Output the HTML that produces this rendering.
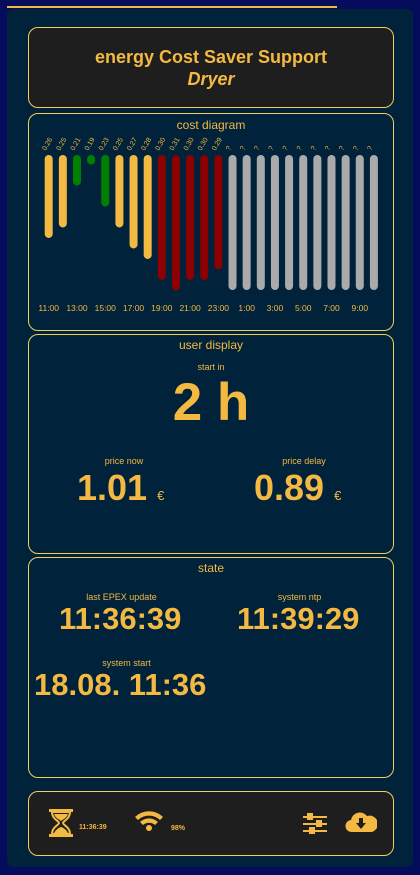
<!DOCTYPE html>
<html><head><meta charset="utf-8">
<style>
*{box-sizing:border-box;margin:0;padding:0}
body{width:420px;height:875px;background:#050c5c;font-family:"Liberation Sans",sans-serif;position:relative;overflow:hidden;color:#f4b942}
.topline{position:absolute;left:7px;top:6px;width:330px;height:2px;background:#f4b942}
.main{position:absolute;left:7px;top:9px;width:406px;height:858px;background:#00223a;border-radius:6px}
.card{position:absolute;left:28px;width:366px;border:1px solid #f0cf5a;border-radius:10px}
.title{text-align:center;font-size:12px;color:#f4b942}
.small{font-size:9px;color:#f4b942;text-align:center}
.big{font-weight:bold;color:#f4b942}
</style></head><body>
<div class="topline"></div>
<div class="main"></div>

<div class="card" style="top:27px;height:81px;background:#1e1e1e">
  <div style="text-align:center;font-weight:bold;font-size:18px;margin-top:19px">energy Cost Saver Support</div>
  <div style="text-align:center;font-weight:bold;font-style:italic;font-size:18px;margin-top:1px">Dryer</div>
</div>

<div class="card" style="top:113px;height:218px">
  <div class="title" style="margin-top:4px">cost diagram</div>
</div>
<svg id="chart" style="position:absolute;left:0;top:0" width="420" height="340"></svg>

<div class="card" style="top:334px;height:220px">
  <div class="title" style="margin-top:3px">user display</div>
  <div class="small" style="margin-top:10px">start in</div>
  <div class="big" style="text-align:center;font-size:53px;margin-top:0px">2 h</div>
  <div class="small" style="position:absolute;left:40px;width:110px;top:121px">price now</div>
  <div class="big" style="position:absolute;left:48px;top:132px;font-size:36px">1.01 <span style="font-size:13px;font-weight:normal">€</span></div>
  <div class="small" style="position:absolute;left:220px;width:110px;top:121px">price delay</div>
  <div class="big" style="position:absolute;left:225px;top:132px;font-size:36px">0.89 <span style="font-size:13px;font-weight:normal">€</span></div>
</div>

<div class="card" style="top:557px;height:221px">
  <div class="title" style="margin-top:3px">state</div>
  <div class="small" style="position:absolute;left:30px;width:125px;top:34px">last EPEX update</div>
  <div class="big" style="position:absolute;left:30px;top:43px;font-size:31px">11:36:39</div>
  <div class="small" style="position:absolute;left:208px;width:125px;top:34px">system ntp</div>
  <div class="big" style="position:absolute;left:208px;top:43px;font-size:31px">11:39:29</div>
  <div class="small" style="position:absolute;left:35px;width:125px;top:100px">system start</div>
  <div class="big" style="position:absolute;left:5px;top:109px;font-size:31px">18.08. 11:36</div>
</div>

<div class="card" style="top:791px;height:65px;background:#1e1e1e">
  <svg style="position:absolute;left:19px;top:17px" width="26" height="28" viewBox="0 0 26 28">
    <rect x="1" y="0" width="24" height="3" fill="#f4b942"/><rect x="1" y="25" width="24" height="3" fill="#f4b942"/>
    <path d="M4 3 H22 C22 10 15 12 15 14 C15 16 22 18 22 25 H4 C4 18 11 16 11 14 C11 12 4 10 4 3Z" fill="none" stroke="#f4b942" stroke-width="2"/>
    <path d="M6 5 H20 C19 9 14 11 13 12 C12 11 7 9 6 5Z" fill="#f4b942"/><path d="M6 24 C8 20 12 18 13 18 C14 18 18 20 20 24Z" fill="#f4b942"/>
  </svg>
  <div style="position:absolute;left:50px;top:32px;font-size:7px;font-weight:bold">11:36:39</div>
  <svg style="position:absolute;left:105px;top:17px" width="30" height="22" viewBox="0 0 30 22">
    <path d="M1 8 A20 20 0 0 1 29 8 L26 11 A16 16 0 0 0 4 11Z" fill="#f4b942"/>
    <path d="M6 13 A13 13 0 0 1 24 13 L21 16 A9 9 0 0 0 9 16Z" fill="#f4b942"/>
    <circle cx="15" cy="19" r="3" fill="#f4b942"/>
  </svg>
  <div style="position:absolute;left:142px;top:33px;font-size:7px;font-weight:bold">98%</div>
  <svg style="position:absolute;left:273px;top:20px" width="26" height="24" viewBox="0 0 26 24">
    <rect x="1" y="4" width="24" height="2" fill="#f4b942"/><rect x="5" y="1" width="6" height="7" fill="#f4b942"/>
    <rect x="1" y="11" width="24" height="2" fill="#f4b942"/><rect x="14" y="8" width="6" height="7" fill="#f4b942"/>
    <rect x="1" y="18" width="24" height="2" fill="#f4b942"/><rect x="7" y="15" width="6" height="7" fill="#f4b942"/>
  </svg>
  <svg style="position:absolute;left:316px;top:18px" width="32" height="24" viewBox="0 0 32 24">
    <path d="M7 22 A6 6 0 0 1 6 10 A9 9 0 0 1 22 6 A7 7 0 0 1 27 22Z" fill="#f4b942"/>
    <path d="M14 8 H18 V13 H21 L16 19 L11 13 H14Z" fill="#1e1e1e"/>
  </svg>
</div>

<script>
const hours=["11","12","13","14","15","16","17","18","19","20","21","22","23","0","1","2","3","4","5","6","7","8","9","10"];
const prices=[0.26,0.25,0.21,0.19,0.23,0.25,0.27,0.28,0.30,0.31,0.30,0.30,0.29,null,null,null,null,null,null,null,null,null,null,null];
const colors=["#f4b942","#f4b942","#008000","#008000","#008000","#f4b942","#f4b942","#f4b942","#8b0000","#8b0000","#8b0000","#8b0000","#8b0000"];
const svg=document.getElementById('chart');
const NS="http://www.w3.org/2000/svg";
const x0=48.7,step=14.14,top0=155,bw=8;
function xs(i){return x0+i*step;}
function hs(v){return v===null?135:Math.max(bw,(v-0.181)*1050);}
prices.forEach((v,i)=>{
  const r=document.createElementNS(NS,'rect');
  
  
  r.setAttribute('x',xs(i)-bw/2);r.setAttribute('y',top0);
  r.setAttribute('width',bw);r.setAttribute('height',hs(v));
  r.setAttribute('rx',4);
  r.setAttribute('fill',v===null?'#aaaaaa':colors[i]);
  svg.appendChild(r);
  const t=document.createElementNS(NS,'text');
  
  
  t.setAttribute('x',xs(i)-3);t.setAttribute('y',151);
  t.setAttribute('font-size','7');t.setAttribute('fill','#f4b942');
  t.setAttribute('font-family','Liberation Sans, sans-serif');
  t.setAttribute('transform','rotate(-60 '+(xs(i)-3)+' 151)');
  t.textContent=v===null?'?':v.toFixed(2);
  svg.appendChild(t);
  if(i%2===0){
    const l=document.createElementNS(NS,'text');
    
    
    l.setAttribute('x',xs(i));l.setAttribute('y',311);
    l.setAttribute('font-size','8.5');l.setAttribute('fill','#f4b942');
    l.setAttribute('text-anchor','middle');
    l.setAttribute('font-family','Liberation Sans, sans-serif');
    l.textContent=(+hours[i])+':00';
    svg.appendChild(l);
  }
});
</script>
</body></html>
